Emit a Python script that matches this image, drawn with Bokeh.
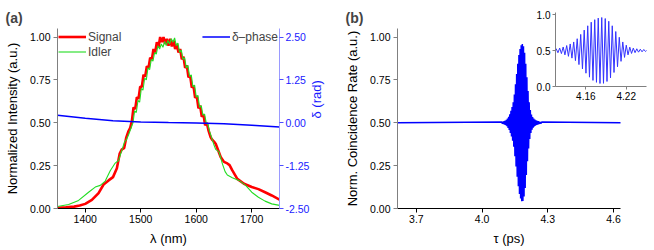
import math
from bokeh.plotting import figure
from bokeh.models import Range1d, LinearAxis, FixedTicker, NumeralTickFormatter, Legend, LegendItem
from bokeh.layouts import row
from bokeh.embed import file_html
from bokeh.resources import INLINE

FONT = "Liberation Sans"

# ---------------- data: panel (a) ----------------
lam_signal = [1350, 1365, 1380, 1390, 1400, 1412, 1424, 1433, 1442, 1450, 1457, 1462, 1466, 1470, 1474, 1478, 1481,
              1484, 1487, 1490, 1493, 1496, 1499, 1502, 1505, 1508, 1511, 1514, 1517, 1520, 1523, 1526, 1529, 1532,
              1535, 1538, 1541, 1544, 1547, 1550, 1553, 1556, 1559, 1562, 1565, 1568, 1571, 1574, 1577, 1580, 1583,
              1586, 1589, 1592, 1595, 1598, 1601, 1604, 1607, 1610, 1613, 1616, 1619, 1622, 1626, 1629, 1632, 1635,
              1640, 1644, 1650, 1656, 1660, 1665, 1674, 1686, 1700, 1712, 1724, 1736, 1750]
signal = [0.004, 0.007, 0.011, 0.017, 0.027, 0.050, 0.090, 0.140, 0.164, 0.183, 0.235, 0.320, 0.345, 0.352, 0.415, 0.452, 0.470,
          0.51, 0.59, 0.58, 0.65, 0.64, 0.71, 0.71, 0.78, 0.77, 0.83, 0.82, 0.88, 0.87, 0.93, 0.91, 0.97, 0.94,
          1.00, 0.97, 1.00, 0.96, 0.99, 0.95, 0.99, 0.945, 0.98, 0.93, 0.96, 0.91, 0.93, 0.87, 0.885, 0.82, 0.835,
          0.765, 0.775, 0.705, 0.715, 0.645, 0.655, 0.585, 0.60, 0.535, 0.55, 0.485, 0.50, 0.456, 0.415, 0.400, 0.390, 0.378,
          0.335, 0.300, 0.272, 0.263, 0.253, 0.222, 0.173, 0.144, 0.125, 0.113, 0.095, 0.076, 0.052]

lam_idler = [1350, 1370, 1388, 1406, 1418, 1427, 1436, 1445, 1454, 1460, 1465, 1471, 1474, 1478, 1482,
             1486, 1489, 1492, 1495, 1498, 1501, 1504, 1507, 1510, 1513, 1516, 1519, 1522, 1525, 1528, 1531, 1534,
             1537, 1540, 1543, 1546, 1549, 1552, 1555, 1558, 1561, 1564, 1567, 1570, 1573, 1576, 1579, 1582, 1585,
             1588, 1591, 1594, 1597, 1600, 1603, 1606, 1609, 1612, 1615, 1618, 1621, 1624, 1629, 1632, 1635, 1641,
             1647, 1652, 1656, 1665, 1677, 1689, 1700, 1712, 1724, 1736, 1750]
idler = [0.012, 0.023, 0.047, 0.095, 0.125, 0.135, 0.160, 0.220, 0.265, 0.280, 0.330, 0.390, 0.400, 0.430, 0.465,
         0.50, 0.57, 0.56, 0.63, 0.62, 0.70, 0.69, 0.76, 0.75, 0.82, 0.81, 0.87, 0.86, 0.91, 0.90, 0.95, 0.93,
         0.96, 0.94, 0.975, 0.95, 0.98, 0.96, 0.99, 0.97, 0.995, 0.95, 0.965, 0.91, 0.925, 0.87, 0.88, 0.82, 0.835,
         0.77, 0.78, 0.71, 0.72, 0.65, 0.66, 0.59, 0.60, 0.545, 0.55, 0.50, 0.49, 0.45, 0.40, 0.37, 0.345, 0.330,
         0.262, 0.215, 0.195, 0.180, 0.164, 0.135, 0.095, 0.066, 0.043, 0.027, 0.018]

lam_phase = [1350, 1400, 1450, 1500, 1550, 1600, 1650, 1700, 1750]
delta_phase = [0.22, 0.13, 0.06, 0.02, 0.005, -0.005, -0.03, -0.07, -0.12]

# ---------------- data: panel (b) ----------------
tau = [3.60,
       4.0900, 4.0926, 4.0952, 4.0978, 4.1004, 4.1030, 4.1056, 4.1082, 4.1108, 4.1134,
       4.1160, 4.1186, 4.1212, 4.1238, 4.1264, 4.1290, 4.1316, 4.1342, 4.1368, 4.1394,
       4.1420, 4.1446, 4.1472, 4.1498, 4.1524, 4.1550, 4.1576, 4.1602, 4.1628, 4.1654,
       4.1680, 4.1706, 4.1732, 4.1758, 4.1784, 4.1810, 4.1836, 4.1862, 4.1888, 4.1914,
       4.1940, 4.1966, 4.1992, 4.2018, 4.2044, 4.2070, 4.2096, 4.2122, 4.2148, 4.2174,
       4.2200, 4.2226, 4.2252, 4.2278, 4.2304, 4.2330, 4.2356, 4.2382, 4.2408, 4.2434,
       4.2460, 4.2486, 4.2512, 4.2538, 4.2564, 4.2590, 4.2616, 4.2642, 4.2668, 4.2694,
       4.2720,
       4.65]
coincidence = [0.500,
               0.505, 0.494, 0.507, 0.492, 0.509, 0.490, 0.512, 0.486, 0.517, 0.480,
               0.525, 0.470, 0.535, 0.458, 0.550, 0.440, 0.570, 0.420, 0.592, 0.395,
               0.620, 0.360, 0.665, 0.305, 0.725, 0.245, 0.785, 0.185, 0.845, 0.130,
               0.895, 0.085, 0.930, 0.058, 0.952, 0.042, 0.960, 0.044, 0.946, 0.070,
               0.908, 0.120, 0.845, 0.195, 0.765, 0.275, 0.685, 0.350, 0.620, 0.405,
               0.575, 0.440, 0.548, 0.460, 0.534, 0.471, 0.525, 0.478, 0.519, 0.483,
               0.515, 0.487, 0.511, 0.490, 0.509, 0.492, 0.507, 0.494, 0.505, 0.496,
               0.504,
               0.500]

# tick labels
a_xticks = [1400, 1500, 1600, 1700]
a_yticks = [0.0, 0.25, 0.5, 0.75, 1.0]
a_rticks = [-2.5, -1.25, 0.0, 1.25, 2.5]
b_xticks = [3.7, 4.0, 4.3, 4.6]
b_yticks = [0.0, 0.25, 0.5, 0.75, 1.0]
in_xticks = [4.16, 4.22]
in_yticks = [0.0, 0.5, 1.0]

TICK_FS = "10.5px"


def style_axis(ax, line_color="black", label_color="black", tick_color=None, size=TICK_FS):
    ax.axis_line_color = line_color
    ax.axis_line_width = 1
    ax.major_tick_line_color = tick_color or line_color
    ax.minor_tick_line_color = None
    ax.major_tick_out = 4
    ax.major_tick_in = 0
    ax.major_label_text_font = FONT
    ax.major_label_text_font_size = size
    ax.major_label_text_color = label_color
    ax.major_label_standoff = 3
    ax.axis_label_text_font = FONT
    ax.axis_label_text_font_size = "13px"
    ax.axis_label_text_font_style = "normal"
    ax.axis_label_text_color = label_color
    ax.axis_label_standoff = 7


def base_fig(fw, fh, xr, yr, mbl, mbr, mbt, mbb, title=""):
    p = figure(frame_width=fw, frame_height=fh, x_range=xr, y_range=yr, title=title,
               output_backend="svg", toolbar_location=None,
               min_border_left=mbl, min_border_right=mbr, min_border_top=mbt, min_border_bottom=mbb)
    p.frame_align = False
    p.xgrid.visible = False
    p.ygrid.visible = False
    p.outline_line_color = None
    p.background_fill_color = None
    p.border_fill_color = None
    p.title.text_font = FONT
    p.title.align = "left"
    if title:
        p.title.text_font_size = "14px"
        p.title.text_font_style = "bold"
        p.title.offset = -52
        p.title.standoff = 6
    else:
        p.title.text_font_size = "1px"
        p.title.standoff = 0
        p.title.visible = False
    return p


# ---------------- panel (a) ----------------
pa = base_fig(222, 180, Range1d(1350, 1750), Range1d(0, 1.05), 57, 60, 28, 41, title="(a)")
pa.extra_y_ranges = {"phase": Range1d(-2.5, 2.75)}

r_sig = pa.line(lam_signal, signal, line_color="#ff0000", line_width=2.6)
r_idl = pa.line(lam_idler, idler, line_color="#22dd22", line_width=1.1)
r_ph = pa.line(lam_phase, delta_phase, y_range_name="phase", line_color="#0000ff", line_width=1.5)

pa.xaxis.ticker = FixedTicker(ticks=a_xticks)
pa.yaxis.ticker = FixedTicker(ticks=a_yticks)
pa.yaxis.formatter = NumeralTickFormatter(format="0.00")
pa.xaxis.axis_label = "λ (nm)"
pa.yaxis.axis_label = "Normalized Intensity (a.u.)"
style_axis(pa.xaxis[0], "black")
style_axis(pa.yaxis[0], "#808080")
pa.xaxis[0].axis_label_standoff = 5
pa.xaxis[0].major_label_standoff = 2

rax = LinearAxis(y_range_name="phase", ticker=FixedTicker(ticks=a_rticks),
                 formatter=NumeralTickFormatter(format="0.00"), axis_label="δ (rad)")
style_axis(rax, "#9a9aff", "#1a1aff", tick_color="#4d4dff")
rax.major_label_standoff = 2
rax.axis_label_standoff = 4
rax.axis_label_orientation = math.pi / 2
pa.add_layout(rax, "right")

leg1 = Legend(items=[LegendItem(label="Signal", renderers=[r_sig]),
                     LegendItem(label="Idler", renderers=[r_idl])],
              location="top_left")
leg2 = Legend(items=[LegendItem(label="δ–phase", renderers=[r_ph])], location="top_right")
for lg in (leg1, leg2):
    lg.border_line_color = None
    lg.background_fill_alpha = 0
    lg.label_text_font = FONT
    lg.label_text_font_size = "12px"
    lg.glyph_width = 28
    lg.glyph_height = 15
    lg.label_height = 15
    lg.label_standoff = 2
    lg.spacing = 0
    lg.padding = 1
    lg.margin = 1
    pa.add_layout(lg)

# ---------------- panel (b) ----------------
pb = base_fig(223, 180, Range1d(3.6136, 4.6318), Range1d(0, 1.05), 58, 18, 28, 41, title="(b)")
pb.line(tau, coincidence, line_color="#0000ff", line_width=1.5)
pb.xaxis.ticker = FixedTicker(ticks=b_xticks)
pb.xaxis.formatter = NumeralTickFormatter(format="0.0")
pb.yaxis.ticker = FixedTicker(ticks=b_yticks)
pb.yaxis.formatter = NumeralTickFormatter(format="0.00")
pb.xaxis.axis_label = "τ (ps)"
pb.yaxis.axis_label = "Norm. Coincidence Rate (a.u.)"
style_axis(pb.xaxis[0], "black")
style_axis(pb.yaxis[0], "#808080")
pb.xaxis[0].axis_label_standoff = 5
pb.xaxis[0].major_label_standoff = 2

# ---------------- inset ----------------
pi = base_fig(91, 74, Range1d(4.115, 4.25), Range1d(0, 1.03), 25, 1, 12, 20)
pi.line(tau, coincidence, line_color="#3333ff", line_width=1.0)
pi.xaxis.ticker = FixedTicker(ticks=in_xticks)
pi.xaxis.formatter = NumeralTickFormatter(format="0.00")
pi.yaxis.ticker = FixedTicker(ticks=in_yticks)
pi.yaxis.formatter = NumeralTickFormatter(format="0.0")
style_axis(pi.xaxis[0], "#808080", size="10px")
style_axis(pi.yaxis[0], "#808080", size="10px")
for ax in (pi.xaxis[0], pi.yaxis[0]):
    ax.major_tick_out = 3
    ax.major_label_standoff = 2
pi.margin = (0, 0, 0, -108)

layout = row(pa, pb, pi)
open("out.html", "w").write(file_html(layout, INLINE))
